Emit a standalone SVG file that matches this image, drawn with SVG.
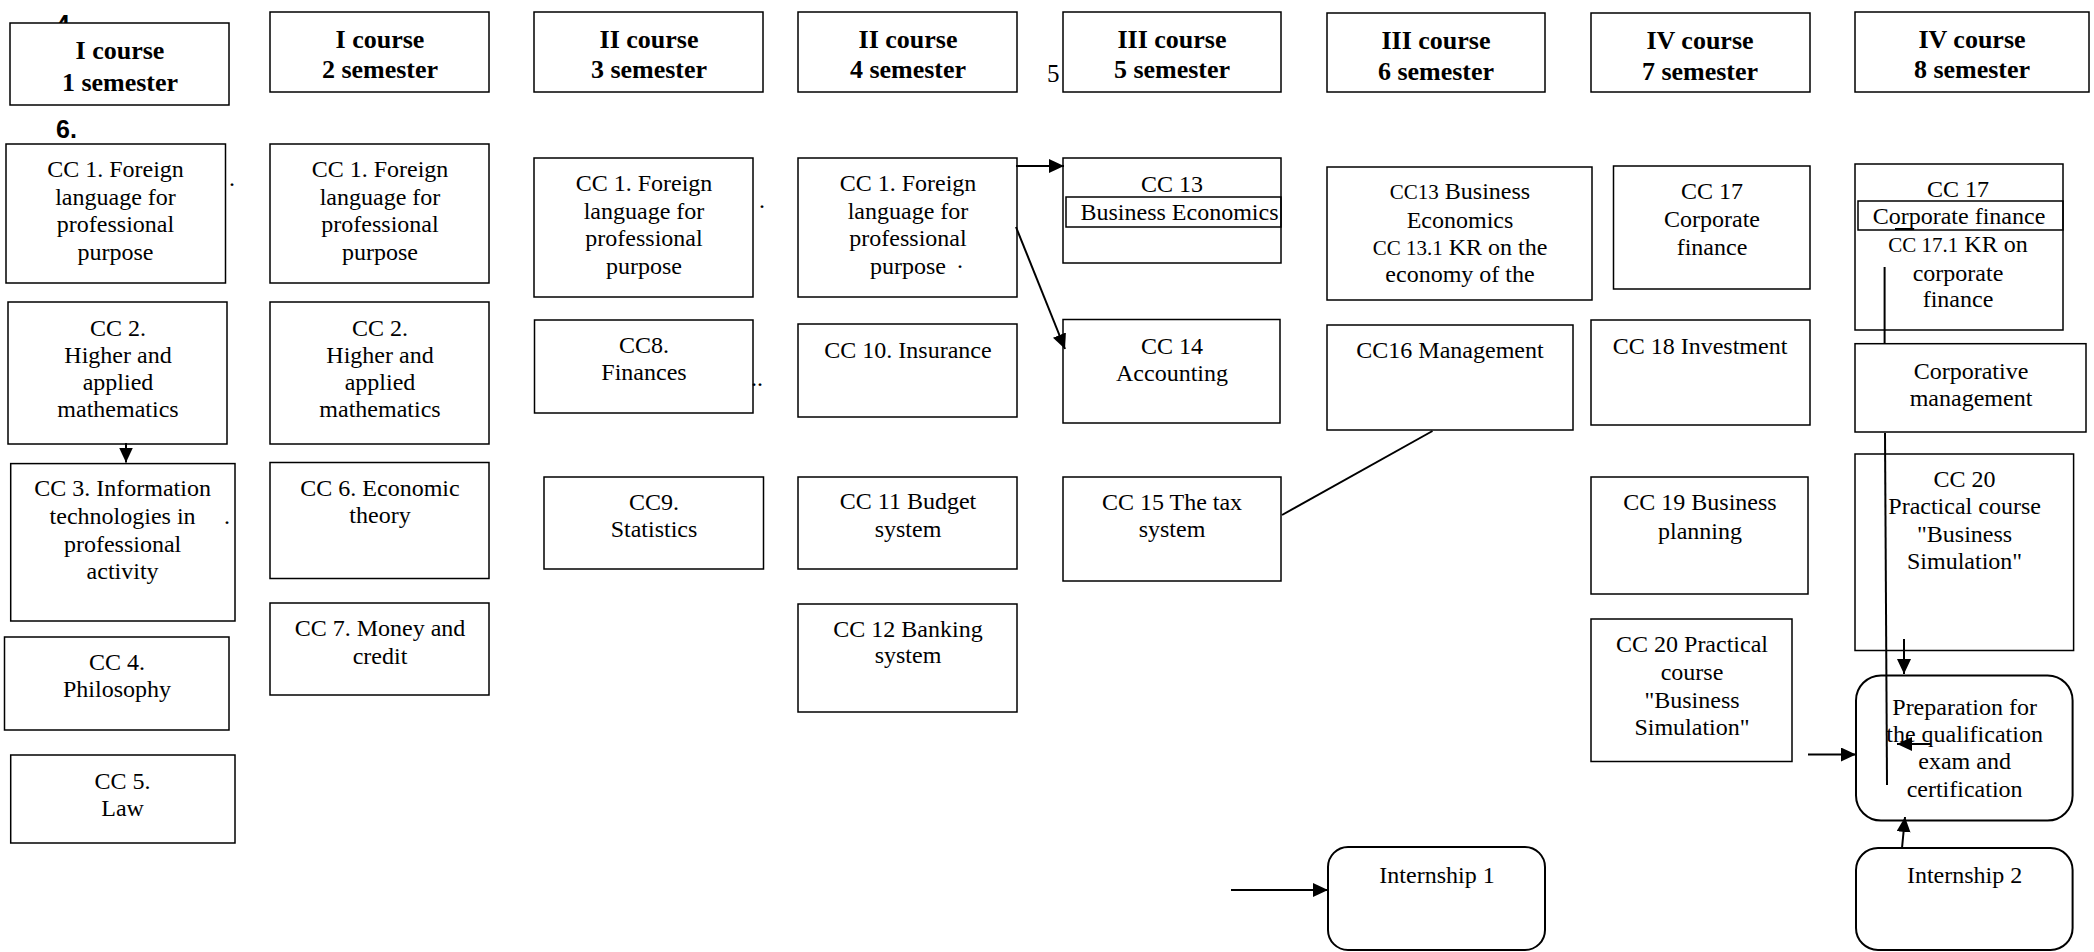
<svg xmlns="http://www.w3.org/2000/svg" width="2094" height="952" viewBox="0 0 2094 952">
<style>
.bg{fill:#fff}
.n rect{fill:#fff;stroke:#000;stroke-width:1.5}
.r rect{fill:#fff;stroke:#000;stroke-width:2}
.in{fill:none;stroke:#000;stroke-width:1.3}
text{font-family:"Liberation Serif","Times New Roman",serif;fill:#000}
.h text{font-size:26px;font-weight:bold;text-anchor:middle}
.t text,.t{font-size:24px;text-anchor:middle}
.sm{font-size:21px}
.lbl{font-family:"Liberation Sans",Arial,sans-serif;font-weight:bold;font-size:25px}
.dot{font-size:25px}
.c line,.c path{stroke:#000;stroke-width:2;fill:none}
</style>
<defs>
<marker id="ah" markerUnits="userSpaceOnUse" markerWidth="16" markerHeight="14" refX="15" refY="7" orient="auto">
<path d="M0,0 L15,7 L0,14 Z" fill="#000"/>
</marker>
</defs>
<rect class="bg" x="0" y="0" width="2094" height="952"/>

<text class="lbl" x="56" y="33">4</text>
<text class="lbl" x="56" y="138">6.</text>
<text class="dot" x="1047" y="82">5</text>

<g id="h1" class="h n"><rect x="10" y="23" width="219" height="82"/><text x="120" y="59">I course</text><text x="120" y="91">1 semester</text></g>
<g id="h2" class="h n"><rect x="270" y="12" width="219" height="80"/><text x="380" y="48">I course</text><text x="380" y="78">2 semester</text></g>
<g id="h3" class="h n"><rect x="534" y="12" width="229" height="80"/><text x="649" y="48">II course</text><text x="649" y="78">3 semester</text></g>
<g id="h4" class="h n"><rect x="798" y="12" width="219" height="80"/><text x="908" y="48">II course</text><text x="908" y="78">4 semester</text></g>
<g id="h5" class="h n"><rect x="1063" y="12" width="218" height="80"/><text x="1172" y="48">III course</text><text x="1172" y="78">5 semester</text></g>
<g id="h6" class="h n"><rect x="1327" y="13" width="218" height="79"/><text x="1436" y="49">III course</text><text x="1436" y="80">6 semester</text></g>
<g id="h7" class="h n"><rect x="1591" y="13" width="219" height="79"/><text x="1700" y="49">IV course</text><text x="1700" y="80">7 semester</text></g>
<g id="h8" class="h n"><rect x="1855" y="12" width="234" height="80"/><text x="1972" y="48">IV course</text><text x="1972" y="78">8 semester</text></g>

<g id="c1cc1" class="t n"><rect x="6" y="144" width="219.5" height="139"/><text x="115.5" y="177">CC 1. Foreign</text><text x="115.5" y="204.5">language for</text><text x="115.5" y="232">professional</text><text x="115.5" y="259.5">purpose</text></g>
<g id="c1cc2" class="t n"><rect x="8" y="302" width="219" height="142"/><text x="118" y="336">CC 2.</text><text x="118" y="363">Higher and</text><text x="118" y="390">applied</text><text x="118" y="417">mathematics</text></g>
<g id="c1cc3" class="t n"><rect x="10.7" y="463.6" width="224.3" height="157.4"/><text x="122.6" y="496">CC 3. Information</text><text x="122.6" y="524">technologies in</text><text x="122.6" y="552">professional</text><text x="122.6" y="579">activity</text></g>
<g id="c1cc4" class="t n"><rect x="4.5" y="637" width="224.5" height="93"/><text x="117" y="670">CC 4.</text><text x="117" y="697">Philosophy</text></g>
<g id="c1cc5" class="t n"><rect x="10.7" y="755" width="224.3" height="88"/><text x="122.6" y="789">CC 5.</text><text x="122.6" y="816">Law</text></g>

<g id="c2cc1" class="t n"><rect x="270" y="144" width="219" height="139"/><text x="380" y="177">CC 1. Foreign</text><text x="380" y="204.5">language for</text><text x="380" y="232">professional</text><text x="380" y="259.5">purpose</text></g>
<g id="c2cc2" class="t n"><rect x="270" y="302" width="219" height="142"/><text x="380" y="336">CC 2.</text><text x="380" y="363">Higher and</text><text x="380" y="390">applied</text><text x="380" y="417">mathematics</text></g>
<g id="c2cc6" class="t n"><rect x="270" y="462.5" width="219" height="116"/><text x="380" y="496">CC 6. Economic</text><text x="380" y="523">theory</text></g>
<g id="c2cc7" class="t n"><rect x="270" y="603" width="219" height="92"/><text x="380" y="636">CC 7. Money and</text><text x="380" y="664">credit</text></g>

<g id="c3cc1" class="t n"><rect x="534" y="158" width="219" height="139"/><text x="644" y="191">CC 1. Foreign</text><text x="644" y="218.5">language for</text><text x="644" y="246">professional</text><text x="644" y="273.5">purpose</text></g>
<g id="c3cc8" class="t n"><rect x="534.5" y="320" width="218.5" height="93"/><text x="644" y="353">CC8.</text><text x="644" y="380">Finances</text></g>
<g id="c3cc9" class="t n"><rect x="544" y="477" width="219.5" height="92"/><text x="654" y="510">CC9.</text><text x="654" y="537">Statistics</text></g>

<g id="c4cc1" class="t n"><rect x="798" y="158" width="219" height="139"/><text x="908" y="191">CC 1. Foreign</text><text x="908" y="218.5">language for</text><text x="908" y="246">professional</text><text x="908" y="273.5">purpose</text></g>
<g id="c4cc10" class="t n"><rect x="798" y="324" width="219" height="93"/><text x="908" y="358">CC 10. Insurance</text></g>
<g id="c4cc11" class="t n"><rect x="798" y="477" width="219" height="92"/><text x="908" y="509">CC 11 Budget</text><text x="908" y="537">system</text></g>
<g id="c4cc12" class="t n"><rect x="798" y="604" width="219" height="108"/><text x="908" y="637">CC 12 Banking</text><text x="908" y="663">system</text></g>

<g id="c5cc13" class="t n"><rect x="1063" y="158" width="218" height="105"/><text x="1172" y="192">CC 13</text><rect class="in" x="1066" y="197" width="215" height="30" style="fill:none"/><text x="1179.5" y="220">Business Economics</text></g>
<g id="c5cc14" class="t n"><rect x="1063" y="319.5" width="217" height="103.5"/><text x="1172" y="354">CC 14</text><text x="1172" y="381">Accounting</text></g>
<g id="c5cc15" class="t n"><rect x="1063" y="477" width="218" height="104"/><text x="1172" y="510">CC 15 The tax</text><text x="1172" y="537">system</text></g>

<g id="c6cc13" class="t n"><rect x="1327" y="167" width="265" height="133"/><text x="1460" y="199"><tspan class="sm">CC13</tspan> Business</text><text x="1460" y="228">Economics</text><text x="1460" y="255"><tspan class="sm">CC 13.1</tspan> KR on the</text><text x="1460" y="282">economy of the</text></g>
<g id="c6cc16" class="t n"><rect x="1327" y="325" width="246" height="105"/><text x="1450" y="358">CC16 Management</text></g>
<g id="intern1" class="t r"><rect x="1328" y="847" width="217" height="103" rx="20"/><text x="1437" y="883">Internship 1</text></g>

<g id="c7cc17" class="t n"><rect x="1613.5" y="166" width="196.5" height="123"/><text x="1712" y="199">CC 17</text><text x="1712" y="227">Corporate</text><text x="1712" y="255">finance</text></g>
<g id="c7cc18" class="t n"><rect x="1591" y="320" width="219" height="105"/><text x="1700" y="354">CC 18 Investment</text></g>
<g id="c7cc19" class="t n"><rect x="1591" y="477" width="217" height="117"/><text x="1700" y="510">CC 19 Business</text><text x="1700" y="539">planning</text></g>
<g id="c7cc20" class="t n"><rect x="1591" y="619" width="201" height="142.5"/><text x="1692" y="652">CC 20 Practical</text><text x="1692" y="680">course</text><text x="1692" y="707.5">"Business</text><text x="1692" y="734.5">Simulation"</text></g>

<g id="c8cc17" class="t n"><rect x="1855" y="164" width="208" height="166"/><text class="sm" x="1958" y="197">CC 17</text><rect class="in" x="1858" y="201" width="205" height="29" style="fill:none"/><text x="1959" y="224">Corporate finance</text><line x1="1895" y1="229" x2="1914" y2="229" stroke="#000" stroke-width="2"/><text x="1958" y="252"><tspan class="sm">CC 17.1</tspan> KR on</text><text x="1958" y="281">corporate</text><text x="1958" y="307">finance</text></g>
<g id="c8corp" class="t n"><rect x="1855" y="343.7" width="231" height="88.3"/><text x="1971" y="379">Corporative</text><text x="1971" y="406">management</text></g>
<g id="c8cc20" class="t n"><rect x="1855" y="454" width="218.6" height="196.5"/><text x="1964.6" y="487">CC 20</text><text x="1964.6" y="514">Practical course</text><text x="1964.6" y="542">"Business</text><text x="1964.6" y="569">Simulation"</text></g>
<g id="prep" class="t r"><rect x="1856" y="675.5" width="216.6" height="145" rx="25"/><text x="1964.6" y="715">Preparation for</text><text x="1964.6" y="742">the qualification</text><text x="1964.6" y="769">exam and</text><text x="1964.6" y="797">certification</text></g>
<g id="intern2" class="t r"><rect x="1856" y="848" width="216.6" height="102" rx="22"/><text x="1964.6" y="883">Internship 2</text></g>

<g id="dots" class="t">
<text x="232" y="186">.</text>
<text x="227" y="524">.</text>
<text x="762" y="208">.</text>
<text x="960" y="268">.</text>
<text x="757" y="386">..</text>
</g>

<g id="connectors" class="c">
<line x1="126" y1="443" x2="126" y2="462.5" marker-end="url(#ah)"/>
<line x1="1016" y1="166" x2="1064" y2="166" marker-end="url(#ah)"/>
<line x1="1016" y1="227" x2="1065" y2="349" marker-end="url(#ah)"/>
<line x1="1282" y1="515" x2="1432.5" y2="431"/>
<line x1="1231" y1="890" x2="1328" y2="890" marker-end="url(#ah)"/>
<line x1="1808" y1="754.5" x2="1856" y2="754.5" marker-end="url(#ah)"/>
<line x1="1884.6" y1="267" x2="1884.6" y2="343.7"/>
<line x1="1885" y1="433" x2="1887" y2="785"/>
<line x1="1904" y1="639" x2="1904" y2="674" marker-end="url(#ah)"/>
<line x1="1931" y1="744" x2="1897" y2="744" marker-end="url(#ah)"/>
<line x1="1902" y1="848" x2="1905" y2="817" marker-end="url(#ah)"/>
</g>
</svg>
